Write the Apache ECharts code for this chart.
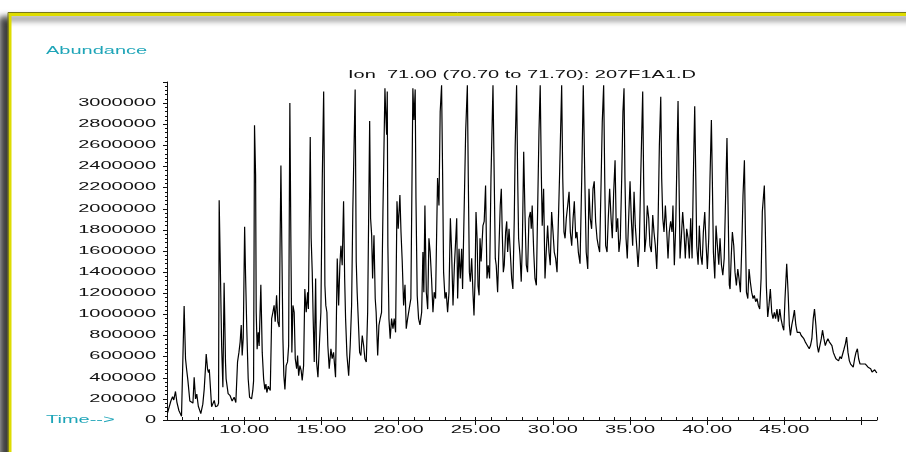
<!DOCTYPE html>
<html>
<head>
<meta charset="utf-8">
<title>Ion 71.00 chromatogram</title>
<script src="https://cdn.jsdelivr.net/npm/echarts@6/dist/echarts.min.js"></script>
<style>
html, body { margin: 0; padding: 0; background: #fff; }
#chart { width: 906px; height: 452px; }
</style>
</head>
<body>
<div id="chart"></div>
<script>
var titleText = 'Ion  71.00 (70.70 to 71.70): 207F1A1.D';
var yName = 'Abundance';
var xName = 'Time-->';

var yTicks = [0, 200000, 400000, 600000, 800000, 1000000, 1200000, 1400000, 1600000,
    1800000, 2000000, 2200000, 2400000, 2600000, 2800000, 3000000];
var xTicks = [10, 15, 20, 25, 30, 35, 40, 45];
var xTickLabels = ['10.00', '15.00', '20.00', '25.00', '30.00', '35.00', '40.00', '45.00'];

// [time (min), abundance], split by time window
var traceA = [[5.04,70000],[5.12,60000],[5.25,180000],[5.36,220000],[5.44,190000],[5.55,270000],[5.64,170000],[5.77,90000],[5.94,35000],[6.05,50000],[6.11,1080000],[6.20,580000],[6.27,480000],[6.35,380000],[6.48,180000],[6.59,190000],[6.68,160000],[6.76,405000],[6.85,200000],[6.93,245000],[7.03,130000],[7.19,60000],[7.32,150000],[7.41,290000],[7.50,510000],[7.54,625000],[7.63,480000],[7.69,450000],[7.74,480000],[7.89,125000],[7.97,140000],[8.06,185000],[8.15,125000],[8.28,135000],[8.34,160000],[8.38,2080000],[8.44,1580000],[8.54,700000],[8.62,310000],[8.70,1300000],[8.79,550000],[8.83,390000],[8.96,250000],[9.09,230000],[9.22,180000],[9.35,215000],[9.46,165000],[9.57,550000],[9.66,640000],[9.74,740000],[9.81,900000],[9.87,610000],[9.94,780000],[10.03,1830000],[10.09,1370000],[10.17,860000],[10.26,390000],[10.35,215000],[10.48,200000],[10.56,280000],[10.61,370000],[10.67,2790000],[10.74,2320000],[10.78,1020000],[10.84,670000],[10.91,830000],[10.97,700000],[11.08,1280000],[11.17,640000],[11.26,390000],[11.34,290000],[11.41,340000],[11.47,260000],[11.56,320000],[11.69,280000],[11.78,960000],[11.86,1020000],[11.94,1085000],[12.01,930000],[12.10,1180000],[12.18,930000],[12.27,880000],[12.38,2410000],[12.44,1650000],[12.51,770000],[12.57,420000],[12.64,290000],[12.72,515000],[12.81,550000],[12.88,700000],[12.96,3000000],[13.03,1620000],[13.09,640000],[13.16,1085000],[13.24,1020000],[13.31,580000],[13.40,485000],[13.46,610000],[13.53,420000],[13.61,515000],[13.69,470000],[13.76,375000],[13.85,515000],[13.93,1240000],[14.02,1020000],[14.11,1210000],[14.16,1050000],[14.28,2680000],[14.34,1720000],[14.41,1400000],[14.47,960000],[14.54,550000],[14.63,1340000],[14.69,550000],[14.78,405000],[14.89,770000],[14.97,1020000]];

var traceB = [[15.06,2290000],[15.15,3110000],[15.18,2600000],[15.23,1275000],[15.29,1085000],[15.36,1020000],[15.42,705000],[15.51,485000],[15.62,675000],[15.70,580000],[15.79,640000],[15.92,405000],[16.03,1530000],[16.12,1085000],[16.20,1465000],[16.27,1650000],[16.35,1465000],[16.44,2070000],[16.51,1340000],[16.57,960000],[16.66,610000],[16.77,420000],[16.87,705000],[16.96,1085000],[17.04,2000000],[17.19,3130000],[17.26,1500000],[17.32,1210000],[17.39,960000],[17.48,640000],[17.56,610000],[17.65,800000],[17.74,705000],[17.82,580000],[17.91,550000],[18.00,1020000],[18.13,2830000],[18.19,1910000],[18.26,1750000],[18.32,1340000],[18.41,1750000],[18.49,1150000],[18.55,1020000],[18.65,610000],[18.73,895000],[18.81,960000],[18.90,1020000],[18.99,1970000],[19.12,3140000],[19.16,2950000],[19.23,2700000],[19.27,3110000],[19.31,1650000],[19.38,960000],[19.46,770000],[19.55,960000],[19.64,865000],[19.72,960000],[19.81,830000],[19.90,2070000],[19.98,1810000],[20.09,2130000],[20.16,1780000],[20.24,1500000],[20.33,1085000],[20.42,1280000],[20.50,865000],[20.59,960000],[20.69,1050000],[20.80,1150000],[20.93,3140000],[21.00,2840000],[21.08,3130000],[21.13,2100000],[21.21,1180000],[21.30,960000],[21.39,900000],[21.50,1020000],[21.58,1590000],[21.64,1210000],[21.71,2030000],[21.80,1210000],[21.89,1050000],[21.97,1720000],[22.05,1590000],[22.14,1340000],[22.23,1020000],[22.31,1210000],[22.40,1150000],[22.53,2290000],[22.62,2030000],[22.70,2920000],[22.79,3170000],[22.86,2290000],[22.92,1400000],[23.01,1150000],[23.09,1210000],[23.18,1020000],[23.27,1210000],[23.36,1910000],[23.44,1590000],[23.53,1085000],[23.62,1465000],[23.70,1690000],[23.77,1910000],[23.83,1150000],[23.92,1620000],[24.00,1340000],[24.09,1620000],[24.15,1240000],[24.26,2050000],[24.35,2730000],[24.46,3170000],[24.52,2290000],[24.59,1400000],[24.65,1310000],[24.74,1530000],[24.83,1180000],[24.89,990000],[24.96,1340000]];

var traceC = [[25.02,1970000],[25.09,1720000],[25.15,1270000],[25.22,1180000],[25.28,1720000],[25.35,1500000],[25.47,1840000],[25.55,1880000],[25.64,2220000],[25.73,1340000],[25.81,1465000],[25.90,1340000],[25.99,2290000],[26.12,3170000],[26.20,2290000],[26.27,1530000],[26.33,1465000],[26.42,1210000],[26.51,1650000],[26.59,2030000],[26.66,2190000],[26.72,1780000],[26.79,1400000],[26.85,1465000],[26.94,1780000],[27.01,1880000],[27.07,1590000],[27.16,1810000],[27.24,1590000],[27.33,1340000],[27.41,1240000],[27.50,1910000],[27.56,2600000],[27.65,3170000],[27.72,2290000],[27.78,1720000],[27.87,1560000],[27.95,1310000],[28.02,1650000],[28.11,2540000],[28.19,1970000],[28.28,1465000],[28.36,1400000],[28.45,1910000],[28.54,1970000],[28.60,1810000],[28.66,2030000],[28.76,1590000],[28.84,1340000],[28.93,1275000],[29.01,1970000],[29.10,2730000],[29.18,3170000],[29.25,2350000],[29.31,1840000],[29.40,2190000],[29.49,1340000],[29.57,1590000],[29.66,1840000],[29.75,1590000],[29.83,1465000],[29.92,1970000],[30.01,1780000],[30.09,1590000],[30.18,1530000],[30.27,1400000],[30.35,1400000],[30.44,2350000],[30.57,3170000],[30.64,2290000],[30.72,1780000],[30.79,1720000],[30.87,1910000],[30.96,2030000],[31.05,2160000],[31.13,1780000],[31.22,1650000],[31.31,1910000],[31.39,2070000],[31.48,1720000],[31.56,1780000],[31.65,1590000],[31.76,1480000],[31.87,2290000],[31.97,3170000],[32.04,2540000],[32.10,2030000],[32.16,1590000],[32.26,1430000],[32.34,2190000],[32.42,1910000],[32.51,1810000],[32.60,2190000],[32.68,2260000],[32.77,1880000],[32.86,1720000],[32.94,1650000],[33.03,1590000],[33.12,2220000],[33.20,2820000],[33.29,3170000],[33.36,2290000],[33.42,1650000],[33.51,1590000],[33.59,1910000],[33.68,2190000],[33.77,1910000],[33.85,1720000],[33.94,2160000],[34.03,2460000],[34.11,1780000],[34.20,1910000],[34.28,1590000],[34.37,1720000],[34.46,2290000],[34.54,2920000],[34.61,3140000],[34.67,2290000],[34.74,1720000],[34.82,1530000],[34.91,1910000]];

var traceD = [[35.00,2260000],[35.08,1910000],[35.17,1650000],[35.26,2160000],[35.34,1840000],[35.43,1650000],[35.52,1450000],[35.60,1650000],[35.69,2290000],[35.82,3110000],[35.88,2290000],[35.95,1590000],[36.03,1720000],[36.12,2030000],[36.21,1910000],[36.29,1650000],[36.38,1590000],[36.47,1940000],[36.55,1780000],[36.64,1650000],[36.73,1430000],[36.81,1810000],[36.90,2600000],[36.99,3060000],[37.05,2290000],[37.12,1910000],[37.20,1780000],[37.29,2030000],[37.38,1780000],[37.46,1530000],[37.54,1780000],[37.63,1880000],[37.72,1780000],[37.78,2030000],[37.87,1465000],[37.96,1840000],[38.04,2480000],[38.11,3020000],[38.17,2290000],[38.24,1530000],[38.32,1720000],[38.41,1970000],[38.50,1780000],[38.58,1530000],[38.67,1810000],[38.76,1720000],[38.84,1530000],[38.93,1910000],[39.02,1530000],[39.10,2290000],[39.19,2970000],[39.26,2290000],[39.32,1650000],[39.41,1470000],[39.49,1840000],[39.58,1560000],[39.67,1470000],[39.75,1780000],[39.84,1970000],[39.93,1650000],[40.01,1430000],[40.10,1720000],[40.18,2290000],[40.27,2840000],[40.33,2290000],[40.40,1590000],[40.49,1340000],[40.57,1840000],[40.66,1650000],[40.75,1470000],[40.83,1720000],[40.92,1470000],[41.01,1370000],[41.10,1530000],[41.17,1970000],[41.28,2670000],[41.35,2030000],[41.43,1280000],[41.48,1240000],[41.56,1560000],[41.63,1780000],[41.72,1650000],[41.80,1400000],[41.89,1275000],[41.98,1430000],[42.06,1340000],[42.15,1210000],[42.24,1650000],[42.32,2130000],[42.41,2460000],[42.47,1810000],[42.54,1210000],[42.63,1150000],[42.71,1430000],[42.79,1310000],[42.88,1210000],[42.97,1150000],[43.05,1180000],[43.14,1120000],[43.23,1150000],[43.31,1085000],[43.40,1050000],[43.49,1340000],[43.57,1970000],[43.70,2220000],[43.76,1840000],[43.83,1270000],[43.92,975000],[44.00,1085000],[44.09,1240000],[44.18,1020000],[44.26,960000],[44.35,1020000],[44.43,960000],[44.52,1050000],[44.61,930000],[44.70,1050000],[44.78,960000],[44.87,895000],[44.96,850000]];

var traceE = [[45.04,1150000],[45.15,1480000],[45.24,1210000],[45.32,900000],[45.39,800000],[45.48,900000],[45.56,960000],[45.65,1040000],[45.74,900000],[45.83,830000],[45.91,820000],[46.00,830000],[46.09,800000],[46.17,800000],[46.26,770000],[46.35,740000],[46.43,720000],[46.52,705000],[46.61,675000],[46.69,705000],[46.78,770000],[46.87,960000],[46.95,1050000],[47.04,900000],[47.13,705000],[47.21,640000],[47.30,625000],[47.39,770000],[47.47,850000],[47.56,770000],[47.65,705000],[47.73,740000],[47.82,770000],[47.91,740000],[47.99,740000],[48.08,705000],[48.17,640000],[48.25,610000],[48.34,580000],[48.43,580000],[48.51,560000],[48.60,600000],[48.69,580000],[48.77,580000],[48.86,670000],[48.95,720000],[49.03,785000],[49.12,640000],[49.21,560000],[49.29,530000],[49.38,515000],[49.46,500000],[49.55,580000],[49.64,640000],[49.73,675000],[49.81,580000],[49.90,530000],[49.99,515000],[50.07,530000],[50.16,515000],[50.25,530000],[50.33,515000],[50.42,500000],[50.51,500000],[50.59,485000],[50.68,455000],[50.77,470000],[50.85,475000],[50.94,455000],[50.99,445000]];

var trace = traceA.concat(traceB, traceC, traceD, traceE);

var ink = '#111';
var teal = '#1fa5b8';
var font = '"Liberation Sans", Arial, sans-serif';

var chart = echarts.init(document.getElementById('chart'));

var option = {
    backgroundColor: '#fff',
    animation: false,
    grid: { left: 167, right: 29, top: 82, bottom: 32 },
    xAxis: [{
        type: 'value',
        min: 5,
        max: 51,
        interval: 5,
        axisLine: { lineStyle: { color: ink, width: 1 } },
        axisTick: { length: 5, lineStyle: { color: ink }, customValues: [10, 15, 20, 25, 30, 35, 40, 45, 50] },
        axisLabel: { show: false },
        splitLine: { show: false }
    }, {
        // minute ticks, pointing up into the plot
        type: 'value',
        min: 5,
        max: 51,
        interval: 1,
        position: 'bottom',
        axisLine: { show: false },
        axisTick: { inside: true, length: 3, lineStyle: { color: ink } },
        axisLabel: { show: false },
        splitLine: { show: false }
    }],
    yAxis: {
        type: 'value',
        min: 0,
        max: 3200000,
        interval: 200000,
        axisLine: { show: true, lineStyle: { color: ink, width: 1 } },
        axisTick: { show: true, length: 4, lineStyle: { color: ink } },
        minorTick: { show: true, splitNumber: 5, length: 2, lineStyle: { color: ink } },
        axisLabel: { show: false },
        splitLine: { show: false }
    },
    series: [{
        type: 'line',
        data: trace,
        symbol: 'none',
        lineStyle: { color: '#000', width: 1.2 },
        z: 3
    }]
};
chart.setOption(option);

// the original prints every text 2x wide, so texts are drawn stretched
function wideText(text, x, y, align, color) {
    return {
        type: 'text',
        x: x,
        y: y,
        scaleX: 2,
        z: 100,
        silent: true,
        style: {
            text: text,
            fill: color || ink,
            fontSize: 10,
            fontFamily: font,
            align: align,
            verticalAlign: 'middle',
            textAlign: align,
            textVerticalAlign: 'middle'
        }
    };
}

var x0 = chart.convertToPixel({ xAxisIndex: 0 }, 5);
var x1 = chart.convertToPixel({ xAxisIndex: 0 }, 51);
var yBase = chart.convertToPixel({ yAxisIndex: 0 }, 0);
var yTop = chart.convertToPixel({ yAxisIndex: 0 }, 3200000);

var elements = [{
    // yellow frame with its drop shadow
    type: 'rect',
    z: -5,
    silent: true,
    shape: { x: 10, y: 14.5, width: 960, height: 500 },
    style: {
        fill: '#fff',
        stroke: '#dedc00',
        lineWidth: 3,
        shadowBlur: 6,
        shadowOffsetX: -9,
        shadowOffsetY: 4,
        shadowColor: 'rgba(0,0,0,0.75)'
    }
}, {
    type: 'rect',
    z: -4,
    silent: true,
    shape: { x: 8, y: 12.5, width: 960, height: 500 },
    style: { fill: null, stroke: '#77771c', lineWidth: 1 }
}];

yTicks.forEach(function (v) {
    elements.push(wideText(String(v), x0 - 11, chart.convertToPixel({ yAxisIndex: 0 }, v), 'right'));
});
xTicks.forEach(function (t, i) {
    elements.push(wideText(xTickLabels[i], chart.convertToPixel({ xAxisIndex: 0 }, t), yBase + 10, 'center'));
});
elements.push(wideText(titleText, (x0 + x1) / 2, yTop - 7, 'center'));
elements.push(wideText(yName, 46, 51.5, 'left', teal));
elements.push(wideText(xName, 46, 420.5, 'left', teal));

chart.setOption({ graphic: { elements: elements } });
</script>
</body>
</html>
